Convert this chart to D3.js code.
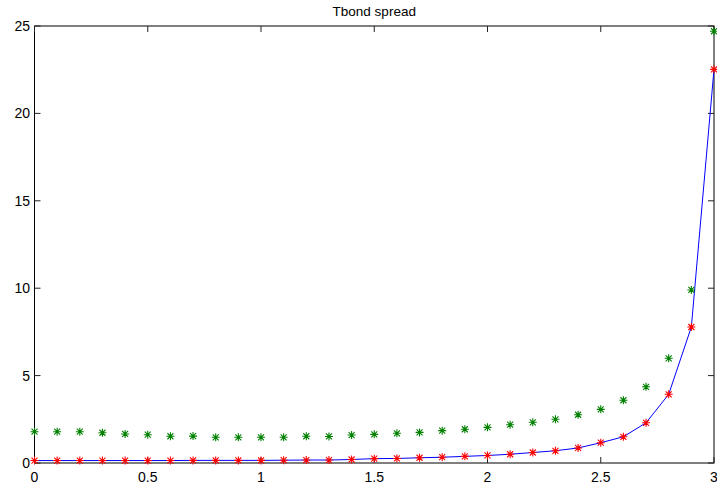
<!DOCTYPE html>
<html><head><meta charset="utf-8">
<script src="https://cdn.jsdelivr.net/npm/d3@7"></script>
<style>html,body{margin:0;padding:0;background:#fff;}svg{display:block;font-family:"Liberation Sans",Arial,sans-serif;}</style>
</head><body>
<script>
const xs = [0,0.1,0.2,0.3,0.4,0.5,0.6,0.7,0.8,0.9,1.0,1.1,1.2,1.3,1.4,1.5,1.6,1.7,1.8,1.9,2.0,2.1,2.2,2.3,2.4,2.5,2.6,2.7,2.8,2.9,3.0];
const greenVals = [1.79,1.79,1.79,1.73,1.66,1.62,1.53,1.54,1.47,1.47,1.47,1.47,1.53,1.52,1.60,1.64,1.70,1.75,1.85,1.93,2.04,2.19,2.33,2.50,2.76,3.07,3.59,4.36,5.99,9.90,24.70];
const redVals = [0.14,0.14,0.14,0.14,0.14,0.14,0.14,0.15,0.15,0.15,0.15,0.16,0.17,0.17,0.20,0.25,0.26,0.30,0.33,0.38,0.43,0.50,0.60,0.70,0.86,1.16,1.50,2.30,3.93,7.78,22.52];
const xTicks = [0,0.5,1,1.5,2,2.5,3];
const yTicks = [0,5,10,15,20,25];
const title = "Tbond spread";

const W=717,H=491;
const L=34.5,R=714,T=26,B=463;
const svg=d3.select("body").append("svg").attr("width",W).attr("height",H);
const x=d3.scaleLinear().domain([0,3]).range([L,R]);
const y=d3.scaleLinear().domain([0,25]).range([B,T]);

// frame
svg.append("rect").attr("x",L).attr("y",T).attr("width",R-L).attr("height",B-T)
  .attr("fill","none").attr("stroke","#000").attr("stroke-width",1);

const tl=6;
const tg=svg.append("g").attr("stroke","#222").attr("stroke-width",1);
xTicks.forEach(v=>{
  tg.append("line").attr("x1",x(v)).attr("x2",x(v)).attr("y1",B).attr("y2",B-tl);
  tg.append("line").attr("x1",x(v)).attr("x2",x(v)).attr("y1",T).attr("y2",T+tl);
});
yTicks.forEach(v=>{
  tg.append("line").attr("x1",L).attr("x2",L+tl).attr("y1",y(v)).attr("y2",y(v));
  tg.append("line").attr("x1",R).attr("x2",R-tl).attr("y1",y(v)).attr("y2",y(v));
});
xTicks.forEach(v=>{
  svg.append("text").attr("x",x(v)).attr("y",B+19).attr("text-anchor","middle")
    .attr("font-size",14).text(d3.format("")(v));
});
yTicks.forEach(v=>{
  svg.append("text").attr("x",L-4.5).attr("y",y(v)+5).attr("text-anchor","end")
    .attr("font-size",14).text(v);
});
svg.append("text").attr("x",(L+R)/2).attr("y",16).attr("text-anchor","middle")
  .attr("font-size",13.5).text(title);

// blue line through red
const line=d3.line().x((d,i)=>x(xs[i])).y(d=>y(d));
svg.append("path").datum(redVals).attr("d",line).attr("fill","none")
  .attr("stroke","#0000ff").attr("stroke-width",1);

function star(g,cx,cy,color){
  const a=4, b=3;
  const p=`M${cx-a},${cy}H${cx+a}M${cx},${cy-a}V${cy+a}M${cx-b},${cy-b}L${cx+b},${cy+b}M${cx-b},${cy+b}L${cx+b},${cy-b}`;
  g.append("path").attr("d",p).attr("stroke",color).attr("stroke-width",1.1).attr("fill","none");
}
const gg=svg.append("g");
greenVals.forEach((v,i)=>star(gg,x(xs[i]),y(v),"#008000"));
const rg=svg.append("g");
redVals.forEach((v,i)=>star(rg,x(xs[i]),y(v),"#ff0000"));
</script>
</body></html>
